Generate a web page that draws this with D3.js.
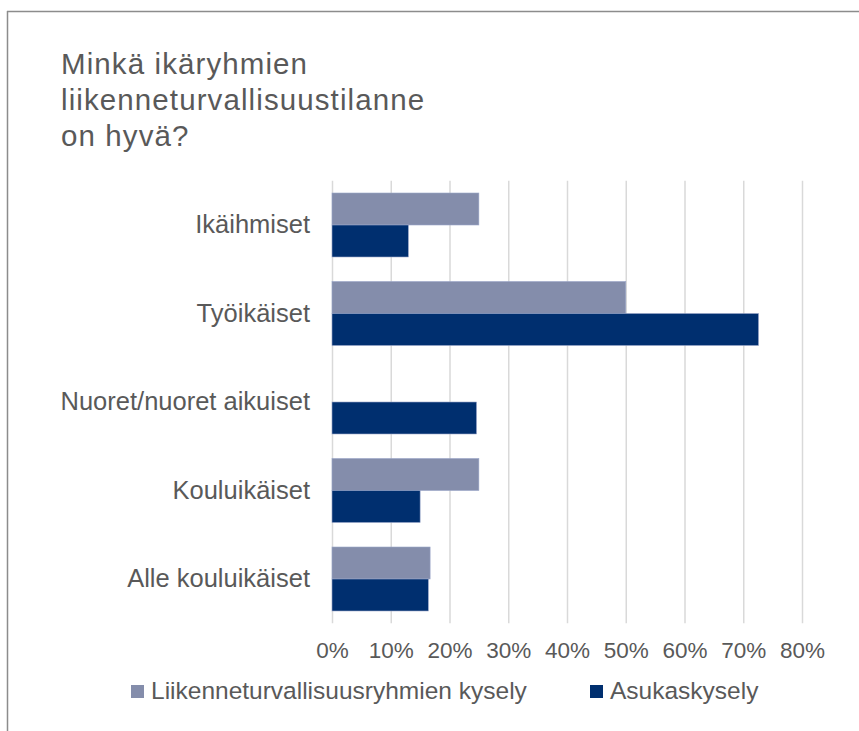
<!DOCTYPE html>
<html>
<head>
<meta charset="utf-8">
<script src="https://cdn.jsdelivr.net/npm/d3@7"></script>
<style>
  body { margin: 0; background: #fff; }
  text { font-family: "Liberation Sans", Arial, sans-serif; fill: #595959; }
</style>
</head>
<body>
<div id="chart"></div>
<script>
var titleLines = ["Minkä ikäryhmien", "liikenneturvallisuustilanne", "on hyvä?"];
var categories = ["Ikäihmiset", "Työikäiset", "Nuoret/nuoret aikuiset", "Kouluikäiset", "Alle kouluikäiset"];
var seriesNames = ["Liikenneturvallisuusryhmien kysely", "Asukaskysely"];
var ryhmatValues = [0.25, 0.50, 0, 0.25, 0.167];
var asukasValues = [0.13, 0.726, 0.246, 0.15, 0.164];
var tickValues = [0, 0.1, 0.2, 0.3, 0.4, 0.5, 0.6, 0.7, 0.8];
var colors = ["#848dab", "#002f6f"];

var width = 859, height = 731;
var svg = d3.select("#chart").append("svg")
    .attr("width", width)
    .attr("height", height);

// frame
svg.append("line").attr("x1", 7).attr("x2", width).attr("y1", 11.5).attr("y2", 11.5)
    .attr("stroke", "#8c8c8c").attr("stroke-width", 1.5);
svg.append("line").attr("x1", 7.5).attr("x2", 7.5).attr("y1", 11).attr("y2", height)
    .attr("stroke", "#8c8c8c").attr("stroke-width", 1.5);

// title
svg.append("g").selectAll("text")
    .data(titleLines)
    .enter().append("text")
    .attr("x", 61)
    .attr("y", function(d, i) { return 74 + i * 36; })
    .style("font-size", "29.5px")
    .style("letter-spacing", "1.1px")
    .text(function(d) { return d; });

var plotLeft = 332, plotRight = 802, plotTop = 180.75, plotBottom = 623.25;

var xScale = d3.scaleLinear().domain([0, 0.8]).range([plotLeft, plotRight]);
var yScale = d3.scaleBand().domain(categories).range([plotTop, plotBottom])
    .paddingInner(0.277).paddingOuter(0.1385);
var subScale = d3.scaleBand().domain(seriesNames).range([0, yScale.bandwidth()]);

// gridlines
var grid = d3.axisBottom(xScale).tickValues(tickValues).tickSize(-(plotBottom - plotTop)).tickFormat("");
svg.append("g")
    .attr("transform", "translate(0," + plotBottom + ")")
    .call(grid)
    .call(function(g) { g.select(".domain").remove(); })
    .selectAll("line").attr("stroke", "#d9d9d9").attr("stroke-width", 1.5);

// tick labels
var xAxis = d3.axisBottom(xScale).tickValues(tickValues).tickSize(0).tickFormat(d3.format(".0%"));
svg.append("g")
    .attr("transform", "translate(0," + 639 + ")")
    .call(xAxis)
    .call(function(g) { g.select(".domain").remove(); })
    .selectAll("text")
    .style("font-size", "22.5px")
    .attr("font-family", null)
    .attr("fill", null);

// category labels
var yAxis = d3.axisLeft(yScale).tickSize(0).tickPadding(0);
svg.append("g")
    .attr("transform", "translate(" + 310 + ",0)")
    .call(yAxis)
    .call(function(g) { g.select(".domain").remove(); })
    .selectAll("text")
    .style("font-size", "25.5px")
    .attr("font-family", null)
    .attr("fill", null);

// bars
var barData = [];
categories.forEach(function(c, i) {
    barData.push({cat: c, series: seriesNames[0], value: ryhmatValues[i], color: colors[0]});
    barData.push({cat: c, series: seriesNames[1], value: asukasValues[i], color: colors[1]});
});
svg.append("g").selectAll("rect")
    .data(barData.filter(function(d) { return d.value > 0; }))
    .enter().append("rect")
    .attr("x", xScale(0))
    .attr("y", function(d) { return yScale(d.cat) + subScale(d.series); })
    .attr("width", function(d) { return xScale(d.value) - xScale(0); })
    .attr("height", subScale.bandwidth())
    .style("fill", function(d) { return d.color; })
    .style("stroke", "#9aa6c8")
    .style("stroke-width", 0.6);

// legend
var legendX = [131, 590];
var legend = svg.append("g").selectAll("g")
    .data(seriesNames)
    .enter().append("g")
    .attr("transform", function(d, i) { return "translate(" + legendX[i] + ",685)"; });
legend.append("rect")
    .attr("width", 13).attr("height", 13)
    .style("fill", function(d, i) { return colors[i]; });
legend.append("text")
    .attr("x", 20).attr("y", 14)
    .style("font-size", "24.5px")
    .text(function(d) { return d; });
</script>
</body>
</html>
